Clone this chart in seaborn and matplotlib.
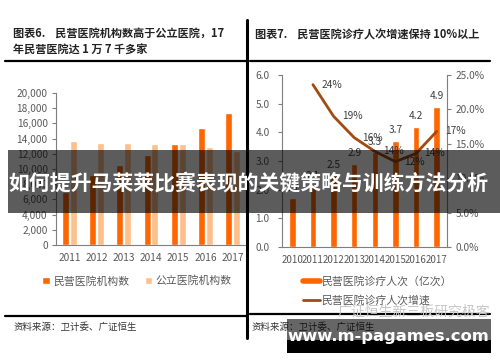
import numpy as np
import pandas as pd
import matplotlib
matplotlib.use("Agg")
import matplotlib.pyplot as plt
import seaborn as sns
from matplotlib.patches import Rectangle, Patch
from matplotlib.lines import Line2D
from matplotlib.ticker import FuncFormatter

# ---------------- data ----------------
years_left = ["2011", "2012", "2013", "2014", "2015", "2016", "2017"]
private_hosp = [7000, 9200, 10550, 11800, 13300, 15400, 17350]
public_hosp = [13700, 13450, 13400, 13350, 13270, 12900, 12400]
left_series = ["民营医院机构数", "公立医院机构数"]

years_right = ["2010", "2011", "2012", "2013", "2014", "2015", "2016", "2017"]
visits = [1.7, 2.1, 2.5, 2.9, 3.3, 3.7, 4.2, 4.9]
growth = [np.nan, 0.236, 0.19, 0.159, 0.139, 0.124, 0.136, 0.168]
right_series = ["民营医院诊疗人次（亿次）", "民营医院诊疗人次增速"]

left_ticks = [0, 2000, 4000, 6000, 8000, 10000, 12000, 14000, 16000, 18000, 20000]
right_ticks = [0.0, 1.0, 2.0, 3.0, 4.0, 5.0, 6.0]
pct_ticks = [0.0, 0.05, 0.10, 0.15, 0.20, 0.25]

title_left_1 = "图表6.    民营医院机构数高于公立医院，17"
title_left_2 = "年民营医院达 1 万 7 千多家"
title_right = "图表7.    民营医院诊疗人次增速保持 10%以上"
source_text = "资料来源：卫计委、广证恒生"
banner_text = "如何提升马莱莱比赛表现的关键策略与训练方法分析"
watermark_text = "广证恒生新三板研究极客"
site_text = "www.m-pagames.com"

# ---------------- style ----------------
sns.set_theme(style="white")
plt.rcParams['font.family'] = ['Noto Sans CJK SC', 'DejaVu Sans']

ORANGE = "#FF6600"
LIGHT = "#FFBE8A"
BROWN = "#A34A10"
GREY_TXT = "#595959"
SPINE = "#7f7f7f"

W, H = 500, 362
fig = plt.figure(figsize=(W / 100, H / 100), dpi=100)
fig.patch.set_facecolor("white")


def ax_px(x0, y0, x1, y1):
    return fig.add_axes([x0 / W, 1 - y1 / H, (x1 - x0) / W, (y1 - y0) / H])


def fx(x):
    return x / W


def fy(y):
    return 1 - y / H


# ---------------- left chart ----------------
axL = ax_px(56, 93, 246, 245)
dfL = pd.DataFrame({
    "year": years_left * 2,
    "type": [left_series[0]] * len(years_left) + [left_series[1]] * len(years_left),
    "value": private_hosp + public_hosp,
})
sns.barplot(data=dfL, x="year", y="value", hue="type", ax=axL,
            palette=[ORANGE, LIGHT], width=0.58, gap=0.1, legend=False,
            saturation=1)
axL.set_ylim(0, 20000)
axL.set_xlim(-0.5, len(years_left) - 0.5)
axL.set_yticks(left_ticks)
axL.yaxis.set_major_formatter(FuncFormatter(lambda v, p: f"{int(v):,}"))
axL.set_xlabel("")
axL.set_ylabel("")
axL.set_xticks(range(len(years_left)))
axL.set_xticklabels(years_left)
axL.set_xticks(np.arange(len(years_left) + 1) - 0.5, minor=True)
axL.tick_params(axis="x", which="major", length=0, pad=6, labelsize=7.3, colors=GREY_TXT)
axL.tick_params(axis="x", which="minor", length=4, width=0.8, color=SPINE, direction="out")
axL.tick_params(axis="y", which="major", length=3, width=0.8, color=SPINE, labelsize=7.3,
                colors=GREY_TXT, pad=3, direction="out", left=True)
for s in ["top", "right"]:
    axL.spines[s].set_visible(False)
for s in ["left", "bottom"]:
    axL.spines[s].set_color(SPINE)
    axL.spines[s].set_linewidth(0.8)
axL.patch.set_alpha(0)

# ---------------- right chart ----------------
axR = ax_px(282, 75, 447, 247)
dfR = pd.DataFrame({"year": years_right, "visits": visits, "growth": growth,
                    "pos": np.arange(len(years_right))})
sns.barplot(data=dfR, x="year", y="visits", ax=axR, color=ORANGE, width=0.32, saturation=1)
axR.set_ylim(0, 6.0)
axR.set_xlim(-0.5, len(years_right) - 0.5)
axR.set_yticks(right_ticks)
axR.yaxis.set_major_formatter(FuncFormatter(lambda v, p: f"{v:.1f}"))
axR.set_xlabel("")
axR.set_ylabel("")
axR.set_xticks(range(len(years_right)))
axR.set_xticklabels(years_right)
axR.set_xticks(np.arange(len(years_right) + 1) - 0.5, minor=True)
axR.tick_params(axis="x", which="major", length=0, pad=6, labelsize=7.0, colors=GREY_TXT)
axR.tick_params(axis="x", which="minor", length=4, width=0.8, color=SPINE, direction="out")
axR.tick_params(axis="y", which="major", length=3, width=0.8, color=SPINE, labelsize=7.3,
                colors=GREY_TXT, pad=6, direction="out", left=True)
for s in ["top", "right"]:
    axR.spines[s].set_visible(False)
for s in ["left", "bottom"]:
    axR.spines[s].set_color(SPINE)
    axR.spines[s].set_linewidth(0.8)
for p, v in zip(axR.patches, visits):
    axR.annotate(f"{v:.1f}", (p.get_x() + p.get_width() / 2, p.get_height()),
                 xytext=(0, 4), textcoords="offset points", ha="center", va="bottom",
                 fontsize=7.3, color="#404040")

axR2 = axR.twinx()
sns.lineplot(data=dfR.dropna(), x="pos", y="growth", ax=axR2, color=BROWN, linewidth=2.0)
axR2.set_ylim(0, 0.25)
axR2.set_yticks(pct_ticks)
axR2.yaxis.set_major_formatter(FuncFormatter(lambda v, p: f"{v * 100:.1f}%"))
axR2.set_xlabel("")
axR2.set_ylabel("")
axR2.tick_params(axis="y", length=3, width=0.8, color=SPINE, labelsize=7.3,
                 colors=GREY_TXT, pad=3, direction="out", right=True)
for s in ["top", "left", "bottom"]:
    axR2.spines[s].set_visible(False)
axR2.spines["right"].set_color(SPINE)
axR2.spines["right"].set_linewidth(0.8)
for p, g in zip(dfR["pos"], dfR["growth"]):
    if np.isnan(g):
        continue
    axR2.annotate(f"{g * 100:.0f}%", (p, g), xytext=(13.5, 0), textcoords="offset points",
                  ha="center", va="center", fontsize=7.3, color="#404040")
axR2.set_xlim(-0.5, len(years_right) - 0.5)

# ---------------- legends ----------------
legL = fig.legend(handles=[Patch(facecolor=ORANGE, label=left_series[0]),
                           Patch(facecolor=LIGHT, label=left_series[1])],
                  loc="center", bbox_to_anchor=(fx(137), fy(281)), ncol=2, frameon=False,
                  fontsize=7.8, handlelength=0.7, handleheight=0.7, handletextpad=0.3,
                  columnspacing=1.4, labelcolor=GREY_TXT)
legR = fig.legend(handles=[Line2D([], [], color=ORANGE, lw=4, label=right_series[0]),
                           Line2D([], [], color=BROWN, lw=2, label=right_series[1])],
                  loc="center left", bbox_to_anchor=(fx(293), fy(291)), ncol=1, frameon=False,
                  fontsize=7.8, handlelength=1.6, handletextpad=0.1, labelspacing=0.75,
                  labelcolor=GREY_TXT)

# ---------------- titles / rules / sources ----------------
fig.text(fx(13), fy(33), title_left_1, fontsize=8, fontweight="bold", color="#222222",
         va="center", ha="left")
fig.text(fx(13), fy(50), title_left_2, fontsize=8, fontweight="bold", color="#222222",
         va="center", ha="left")
fig.text(fx(255), fy(35), title_right, fontsize=8, fontweight="bold", color="#222222",
         va="center", ha="left")

rule_kw = dict(color="black", linewidth=1.6, transform=fig.transFigure)
fig.add_artist(Line2D([fx(5), fx(248)], [fy(61), fy(61)], **rule_kw))
fig.add_artist(Line2D([fx(250), fx(490)], [fy(61), fy(61)], **rule_kw))
fig.add_artist(Line2D([fx(5), fx(248)], [fy(316), fy(316)], **rule_kw))
fig.add_artist(Line2D([fx(250), fx(490)], [fy(314), fy(314)], **rule_kw))
fig.add_artist(Line2D([fx(247), fx(247)], [fy(20), fy(338)], color="black", linewidth=2.2,
                      transform=fig.transFigure))

fig.text(fx(13), fy(327), source_text, fontsize=6.8, color="#333333", va="center", ha="left")
fig.text(fx(252), fy(327), source_text, fontsize=6.8, color="#333333", va="center", ha="left")

fig.text(fx(338), fy(312), watermark_text, fontsize=10, color="#c8c8c8", va="center", ha="left",
         zorder=4)

# ---------------- overlays ----------------
fig.add_artist(Rectangle((fx(8), fy(213)), fx(500) - fx(8), fy(150) - fy(213),
                         transform=fig.transFigure, facecolor="black", alpha=0.64,
                         edgecolor="none", zorder=5))
fig.text(fx(8), fy(183), banner_text, fontsize=15.0, fontweight="bold", color="white",
         va="center", ha="left", zorder=6)

fig.add_artist(Rectangle((fx(287), fy(340)), fx(491) - fx(287), fy(319) - fy(340),
                         transform=fig.transFigure, facecolor="black", alpha=0.6,
                         edgecolor="none", zorder=5))
fig.add_artist(Rectangle((fx(287), fy(353)), fx(491) - fx(287), fy(340) - fy(353),
                         transform=fig.transFigure, facecolor="black", alpha=1.0,
                         edgecolor="none", zorder=5))
fig.text(fx(388), fy(337), site_text, fontsize=11.8, fontweight="bold", color="white",
         family=["DejaVu Sans"], va="center", ha="center", zorder=6)

fig.savefig("out.png", dpi=100)
